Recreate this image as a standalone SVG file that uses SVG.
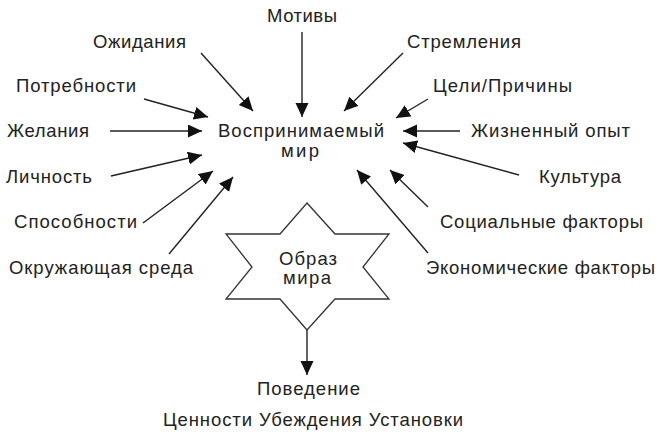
<svg xmlns="http://www.w3.org/2000/svg" width="660" height="440" viewBox="0 0 660 440">
<style>
text{font-family:"Liberation Sans",Arial,sans-serif;font-size:18.5px;fill:#222}
.ln{stroke:#222;stroke-width:1.4;fill:none;marker-end:url(#ah)}
.star{fill:#fff;stroke:#333;stroke-width:1.3}
</style>
<defs>
<marker id="ah" markerUnits="userSpaceOnUse" markerWidth="15" markerHeight="14" refX="14" refY="6.5" orient="auto">
<path d="M0,0 L14,6.5 L0,13 z" fill="#111"/>
</marker>
</defs>
<rect width="660" height="440" fill="#fff"/>
<g id="connectors">
<line class="ln" x1="302" y1="32" x2="302" y2="117"/>
<line class="ln" x1="201" y1="53" x2="253" y2="111"/>
<line class="ln" x1="144" y1="99" x2="208" y2="117"/>
<line class="ln" x1="110" y1="131" x2="202" y2="131"/>
<line class="ln" x1="111" y1="176" x2="202" y2="155"/>
<line class="ln" x1="143" y1="223" x2="213" y2="171"/>
<line class="ln" x1="169" y1="254" x2="233" y2="177"/>
<line class="ln" x1="403" y1="53" x2="344" y2="111"/>
<line class="ln" x1="428" y1="99" x2="396" y2="118"/>
<line class="ln" x1="460" y1="131" x2="403" y2="131"/>
<line class="ln" x1="519" y1="175" x2="403" y2="143"/>
<line class="ln" x1="428" y1="207" x2="390" y2="170"/>
<line class="ln" x1="428" y1="253" x2="357" y2="170"/>
<line class="ln" x1="307" y1="330" x2="307" y2="375"/>
</g>
<g id="motivy"><text x="267" y="22" textLength="70">Мотивы</text></g>
<g id="ozhidaniya"><text x="93" y="48" textLength="93">Ожидания</text></g>
<g id="potrebnosti"><text x="16" y="92" textLength="120">Потребности</text></g>
<g id="zhelaniya"><text x="7" y="137" textLength="82">Желания</text></g>
<g id="lichnost"><text x="6" y="183" textLength="86">Личность</text></g>
<g id="sposobnosti"><text x="14" y="228" textLength="123">Способности</text></g>
<g id="sreda"><text x="9" y="274" textLength="184">Окружающая среда</text></g>
<g id="vosprinimaemy"><text x="218" y="137" textLength="166">Воспринимаемый</text><text x="281" y="157" textLength="38">мир</text></g>
<g id="stremleniya"><text x="407" y="48" textLength="114">Стремления</text></g>
<g id="celi"><text x="433" y="92" textLength="139">Цели/Причины</text></g>
<g id="opyt"><text x="471" y="137" textLength="159">Жизненный опыт</text></g>
<g id="kultura"><text x="539" y="183" textLength="82">Культура</text></g>
<g id="social"><text x="440" y="228" textLength="203">Социальные факторы</text></g>
<g id="econom"><text x="426" y="274" textLength="229">Экономические факторы</text></g>
<g id="obraz">
<polygon class="star" points="307,203 335,234 389,234 363,267 389,299 335,299 307,330 280,299 226,299 252,267 226,234 280,234"/>
<text x="279" y="265" textLength="58">Образ</text>
<text x="283" y="284" textLength="48">мира</text>
</g>
<g id="povedenie"><text x="257" y="395" textLength="103">Поведение</text></g>
<g id="cennosti"><text x="163" y="426" textLength="300">Ценности Убеждения Установки</text></g>
</svg>
